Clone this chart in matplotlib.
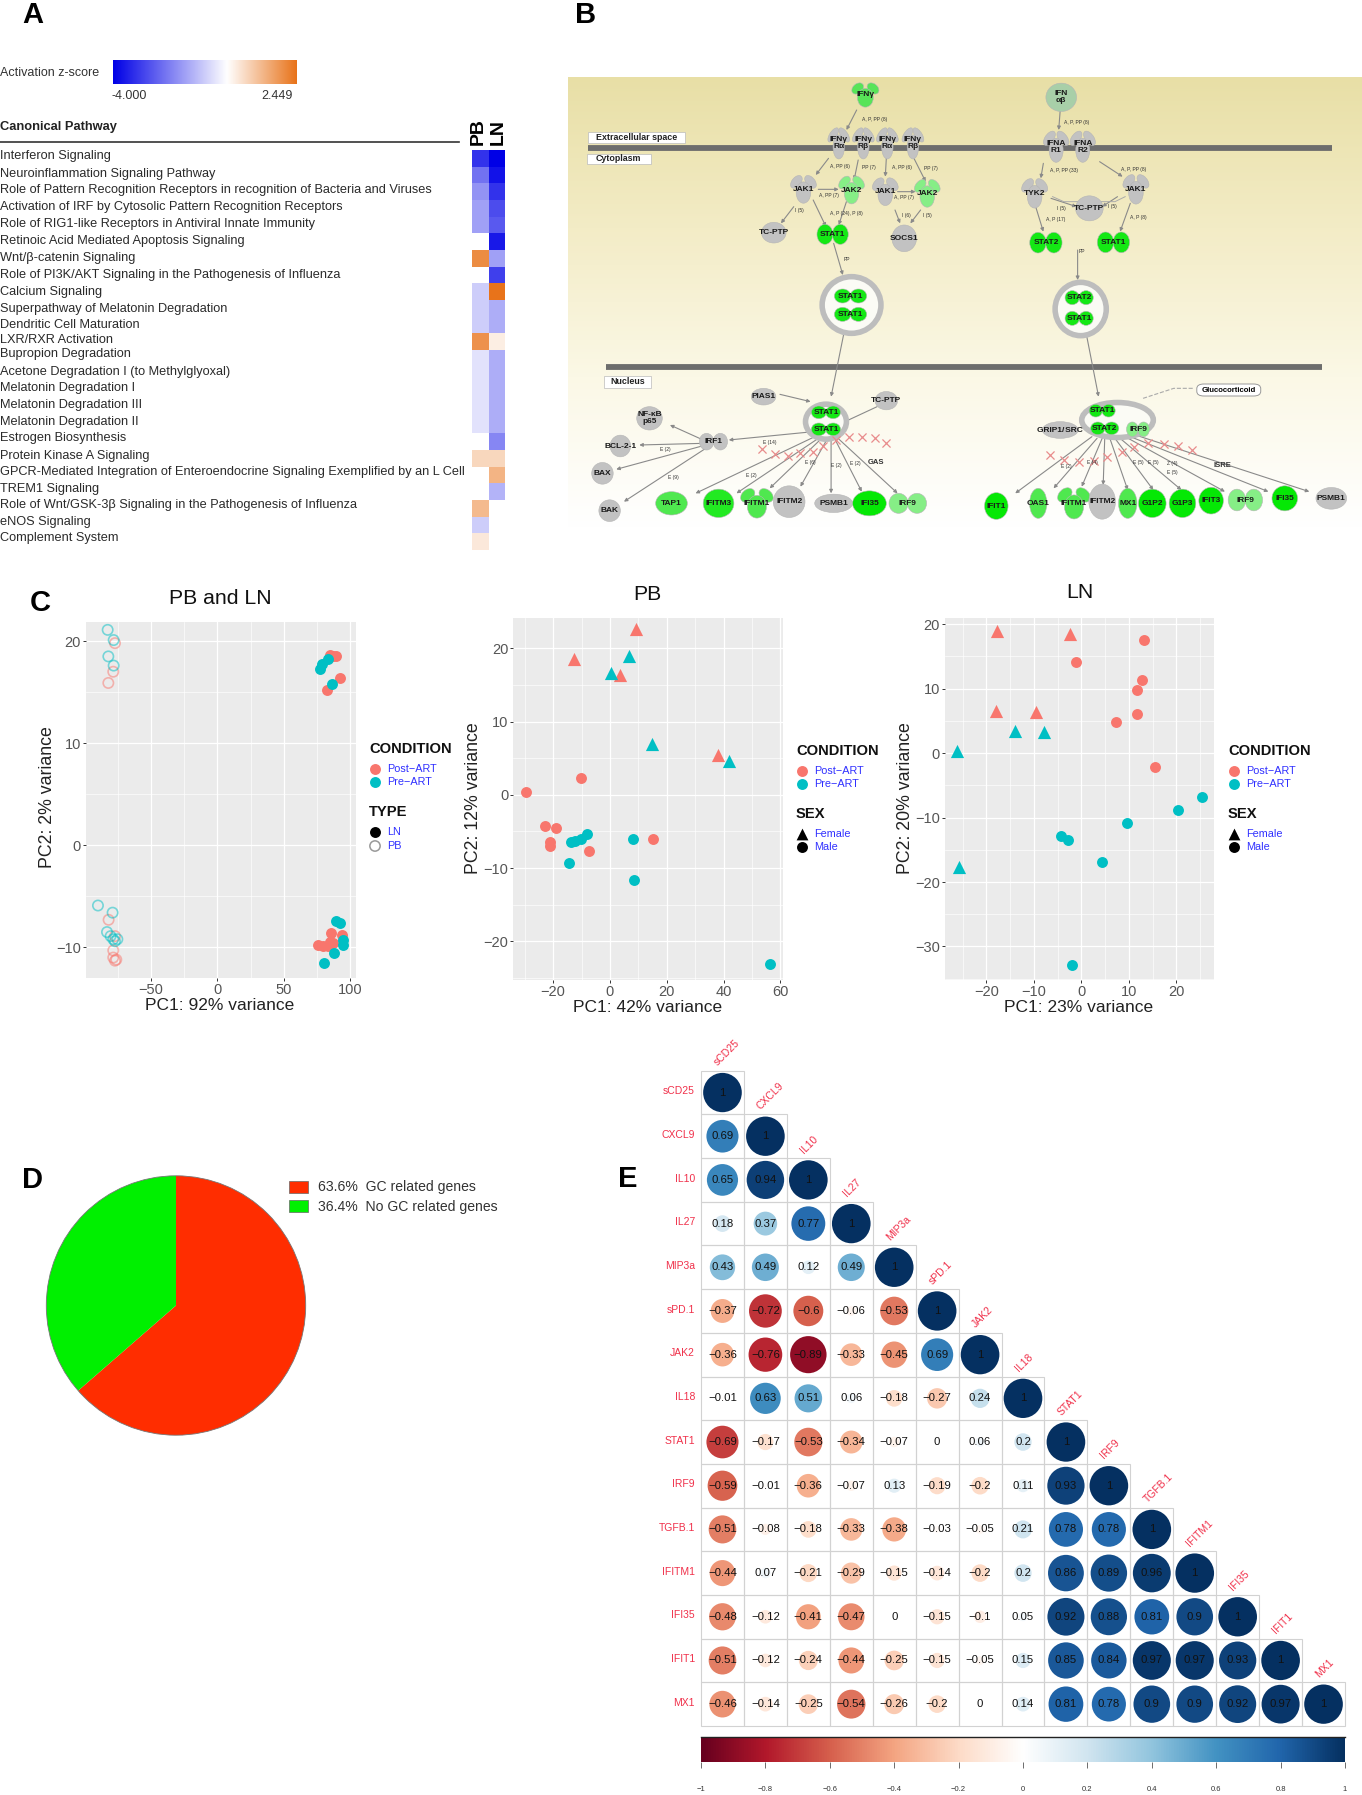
import numpy as np
import matplotlib
matplotlib.use("Agg")
import matplotlib.pyplot as plt
from matplotlib.colors import LinearSegmentedColormap
from matplotlib.patches import Ellipse, Rectangle, FancyBboxPatch

plt.rcParams['font.family'] = ['Liberation Sans', 'DejaVu Sans']
W, H = 1362, 1795
fig = plt.figure(figsize=(W / 100, H / 100), dpi=100, facecolor='white')

def pxax(l, t, r, b, **kw):
    return fig.add_axes([l / W, 1 - b / H, (r - l) / W, (b - t) / H], **kw)

ov = pxax(0, 0, W, H)
ov.set_xlim(0, W); ov.set_ylim(H, 0); ov.axis('off'); ov.set_zorder(10); ov.patch.set_alpha(0)

# ------------------------------------------------------------ Panel A data
pathways = ["Interferon Signaling", "Neuroinflammation Signaling Pathway",
            "Role of Pattern Recognition Receptors in recognition of Bacteria and Viruses",
            "Activation of IRF by Cytosolic Pattern Recognition Receptors",
            "Role of RIG1-like Receptors in Antiviral Innate Immunity",
            "Retinoic Acid Mediated Apoptosis Signaling", "Wnt/β-catenin Signaling",
            "Role of PI3K/AKT Signaling in the Pathogenesis of Influenza", "Calcium Signaling",
            "Superpathway of Melatonin Degradation", "Dendritic Cell Maturation", "LXR/RXR Activation",
            "Bupropion Degradation", "Acetone Degradation I (to Methylglyoxal)", "Melatonin Degradation I",
            "Melatonin Degradation III", "Melatonin Degradation II", "Estrogen Biosynthesis",
            "Protein Kinase A Signaling",
            "GPCR-Mediated Integration of Enteroendocrine Signaling Exemplified by an L Cell",
            "TREM1 Signaling", "Role of Wnt/GSK-3β Signaling in the Pathogenesis of Influenza",
            "eNOS Signaling", "Complement System"]
pathway_label_y = [156.5, 173.5, 190.5, 207, 224, 241, 258, 275, 292, 309, 325.5, 340, 354.5, 371.5,
                   388.5, 405, 421.5, 438.5, 455.5, 472.5, 489, 505, 522.5, 538.5]
nan = float('nan')
z_pb = [-3.2, -2.2, -1.7, -1.5, -1.5, nan, 2.0, nan, -0.8, -0.8, -0.8, 1.9, -0.45, -0.45, -0.45, -0.45,
        -0.45, nan, 0.7, nan, nan, 1.2, -0.8, 0.4]
z_ln = [-4.0, -3.7, -3.2, -2.8, -2.6, -3.6, -1.5, -3.0, 2.449, -1.3, -1.3, 0.3, -1.3, -1.3, -1.3, -1.3,
        -1.3, -1.9, 0.7, 1.3, -1.2, nan, nan, nan]

ipa = LinearSegmentedColormap.from_list('ipa', [(0, '#0000e6'), (4 / 6.449, '#ffffff'), (1, '#e8731a')])

ax = pxax(472.5, 150, 505, 550)
ax.pcolormesh(np.arange(3), np.arange(25), np.ma.masked_invalid(np.array([z_pb, z_ln]).T),
              cmap=ipa, vmin=-4, vmax=2.449)
ax.set_ylim(24, 0); ax.axis('off')

ax = pxax(113, 60, 297, 84.5)
ax.imshow(np.linspace(-4, 2.449, 256)[None, :], cmap=ipa, aspect='auto', vmin=-4, vmax=2.449)
ax.axis('off')

for name, y in zip(pathways, pathway_label_y):
    ov.text(0, y, name, fontsize=9.2, va='center', ha='left', color='#2a2a2a')
ov.text(0, 72.5, "Activation z-score", fontsize=9, va='center', color='#333333')
ov.text(129, 96, "-4.000", fontsize=9, va='center', ha='center', color='#333333')
ov.text(276.5, 96, "2.449", fontsize=9, va='center', ha='center', color='#333333')
ov.text(0, 127, "Canonical Pathway", fontsize=9.3, va='center', fontweight='bold', color='#222222')
ov.plot([0, 459], [141.5, 141.5], color='#333333', lw=1.2)
ov.text(478.6, 145, "PB", fontsize=14, rotation=90, ha='center', va='bottom', fontweight='bold')
ov.text(498, 145, "LN", fontsize=14, rotation=90, ha='center', va='bottom', fontweight='bold')

# ------------------------------------------------------------ Panel letters
panel_letters = [("A", 22, 15), ("B", 575, 15), ("C", 30, 603), ("D", 22, 1180), ("E", 618, 1179)]
for s, x, y in panel_letters:
    ov.text(x, y, s, fontsize=21, fontweight='bold', va='center', ha='left', color='black')

# ------------------------------------------------------------ Panel B pathway diagram
axb = pxax(560, 60, 1362, 540)
axb.set_xlim(0, 1568); axb.set_ylim(1440, 0); axb.axis('off')
bg = LinearSegmentedColormap.from_list('bg', ['#e8dfa6', '#f3ecc6', '#fbf8e6', '#ffffff'])
axb.imshow(np.linspace(0, 1, 256)[:, None], cmap=bg, aspect='auto', extent=(15, 1568, 1405, 55), zorder=0)
axb.set_xlim(0, 1568); axb.set_ylim(1440, 0)

GR, GN, LG = '#c2c2c2', '#14e814', '#86ee86'
membranes = [(55, 1510, 264), (90, 1490, 921)]
for x0, x1, y in membranes:
    axb.plot([x0, x1], [y, y], color='#6d6d6d', lw=4.2, solid_capstyle='butt', zorder=1)

edges = [(580, 150, 560, 210), (978, 150, 975, 210), (525, 295, 500, 345), (583, 300, 575, 360),
         (638, 295, 636, 350), (692, 295, 715, 365), (945, 310, 940, 355), (1055, 305, 1100, 350),
         (495, 420, 520, 500), (560, 425, 545, 495), (930, 440, 945, 515), (1115, 430, 1095, 515),
         (457, 440, 432, 490), (655, 450, 665, 490), (705, 450, 685, 490), (505, 388, 545, 388),
         (660, 395, 695, 395), (960, 415, 1010, 440), (1090, 410, 1060, 440),
         (535, 550, 553, 645), (1012, 570, 1012, 660), (555, 820, 530, 1010), (1030, 830, 1053, 1010),
         (430, 1003, 490, 1025), (620, 1040, 550, 1090), (495, 1115, 330, 1140), (280, 1140, 215, 1095),
         (280, 1150, 155, 1155), (285, 1155, 110, 1228), (285, 1165, 125, 1325), (505, 1125, 265, 1300),
         (510, 1130, 345, 1300), (515, 1130, 410, 1285), (525, 1130, 470, 1280), (530, 1130, 530, 1300),
         (535, 1130, 590, 1295), (540, 1130, 660, 1300), (1040, 1130, 890, 1300), (1050, 1135, 965, 1285),
         (1060, 1135, 1020, 1280), (1065, 1135, 1062, 1275), (1075, 1135, 1110, 1290), (1085, 1135, 1160, 1290),
         (1095, 1135, 1215, 1290), (1105, 1130, 1300, 1295), (1115, 1130, 1385, 1295), (1125, 1125, 1465, 1295)]
for x0, y0, x1, y1 in edges:
    axb.annotate('', xy=(x1, y1), xytext=(x0, y0), zorder=2,
                 arrowprops=dict(arrowstyle='-|>', color='#8a8a8a', lw=0.8, mutation_scale=5, shrinkA=0, shrinkB=0))
axb.plot([963, 985, 1085, 1105], [410, 425, 425, 410], color='#aaaaaa', lw=0.7, zorder=2)
axb.plot([1140, 1200, 1240], [1015, 985, 985], color='#aaaaaa', lw=0.8, ls='--', zorder=2)

rings = [(570, 735, 115, 170), (1018, 747, 100, 160), (520, 1085, 80, 105), (1090, 1080, 140, 105)]
for x, y, w, h in rings:
    axb.add_patch(Ellipse((x, y), w, h, fc='#fbfbf5', ec='#bdbdbd', lw=4, zorder=3))

nodes = [("IFNγ", 597, 105, 50, 70, '#58e458'), ("IFN\nαβ", 980, 112, 60, 85, '#a8cfa8'),
         ("IFNγ\nRα", 545, 250, 36, 90, GR), ("IFNγ\nRβ", 593, 250, 36, 90, GR),
         ("IFNγ\nRα", 640, 250, 36, 90, GR), ("IFNγ\nRβ", 690, 250, 36, 90, GR),
         ("IFNA\nR1", 970, 260, 44, 90, GR), ("IFNA\nR2", 1022, 260, 44, 90, GR),
         ("JAK1", 476, 388, 46, 80, GR), ("JAK2", 570, 390, 46, 80, LG), ("JAK1", 636, 395, 46, 80, GR),
         ("JAK2", 718, 400, 46, 80, LG), ("TYK2", 928, 400, 46, 85, GR), ("JAK1", 1126, 388, 46, 85, GR),
         ("TC-PTP", 1035, 445, 54, 75, GR), ("TC-PTP", 418, 518, 48, 62, GR), ("SOCS1", 673, 535, 48, 80, GR),
         ("STAT1", 533, 523, 60, 60, GN), ("STAT2", 950, 548, 62, 62, GN), ("STAT1", 1082, 547, 62, 62, GN),
         ("STAT1", 568, 708, 62, 42, GN), ("STAT1", 568, 763, 62, 42, GN),
         ("STAT2", 1015, 713, 54, 42, GN), ("STAT1", 1015, 775, 54, 42, GN),
         ("PIAS1", 398, 1010, 48, 50, GR), ("TC-PTP", 638, 1022, 44, 55, GR), ("NF-κB\np65", 175, 1075, 50, 70, GR),
         ("IRF1", 300, 1145, 54, 50, GR), ("BCL-2-1", 118, 1158, 40, 65, GR), ("BAX", 83, 1240, 42, 65, GR),
         ("BAK", 97, 1352, 42, 65, GR), ("STAT1", 520, 1057, 56, 38, GN), ("STAT1", 520, 1108, 56, 38, GN),
         ("STAT1", 1060, 1052, 50, 38, GN), ("STAT2", 1065, 1105, 54, 38, GN), ("IRF9", 1130, 1108, 44, 44, LG),
         ("GRIP1/\u200aSRC", 978, 1110, 70, 50, GR),
         ("TAP1", 218, 1330, 62, 70, '#4fe84f'), ("IFITM3", 310, 1330, 60, 85, '#22ea22'),
         ("IFITM1", 385, 1330, 60, 85, '#4fe84f'), ("IFITM2", 448, 1325, 62, 95, GR),
         ("PSMB1", 535, 1330, 74, 55, GR), ("IFI35", 605, 1330, 66, 75, '#05e805'), ("IRF9", 680, 1330, 72, 60, LG),
         ("IFIT1", 853, 1338, 46, 80, '#05e805'), ("OAS1", 935, 1330, 34, 90, '#4fe84f'),
         ("IFITM1", 1005, 1330, 60, 90, '#4fe84f'), ("IFITM2", 1060, 1325, 52, 105, GR),
         ("MX1", 1110, 1330, 36, 90, '#4fe84f'), ("G1P2", 1158, 1330, 54, 85, '#05e805'),
         ("G1P3", 1217, 1330, 52, 85, '#05e805'), ("IFIT3", 1273, 1322, 48, 80, '#05e805'),
         ("IRF9", 1340, 1320, 66, 65, LG), ("IFI35", 1417, 1315, 50, 75, '#05e805'),
         ("PSMB1", 1508, 1315, 60, 65, GR)]
y_shaped = {"IFNγ", "IFNγ\nRα", "IFNγ\nRβ", "IFNA\nR1", "IFNA\nR2", "JAK1", "JAK2", "TYK2", "IFITM1"}
dimer_shaped = {"STAT1", "STAT2", "IRF9", "IRF1"}

def ell(x, y, w, h, c, ang=0):
    axb.add_patch(Ellipse((x, y), w, h, angle=ang, fc=c, ec='#b5b5b5', lw=0.4, zorder=4))

for s, x, y, w, h, c in nodes:
    if s in y_shaped:
        ell(x - w * 0.3, y - h * 0.28, w * 0.42, h * 0.5, c, 20)
        ell(x + w * 0.3, y - h * 0.28, w * 0.42, h * 0.5, c, -20)
        ell(x, y + h * 0.12, w * 0.62, h * 0.8, c)
    elif s in dimer_shaped:
        ell(x - w * 0.25, y, w * 0.52, h, c)
        ell(x + w * 0.25, y, w * 0.52, h, c)
    else:
        ell(x, y, w, h, c)
    axb.text(x, y, s, fontsize=6, ha='center', va='center', fontweight='bold', color='#1a1a1a',
             zorder=5, linespacing=1.0)

dna_x = [395, 420, 445, 470, 495, 515, 540, 565, 590, 615, 638, 958, 985, 1015, 1045, 1070, 1098, 1122, 1150,
         1180, 1208, 1235]
dna_y = [1168, 1182, 1187, 1180, 1175, 1158, 1140, 1130, 1130, 1135, 1148, 1185, 1200, 1205, 1203, 1190, 1175,
         1162, 1150, 1152, 1158, 1170]
axb.scatter(dna_x, dna_y, marker='x', s=34, color='#e88c8c', lw=0.9, zorder=5)

boxes = [("Extracellular space", 150, 232, 190, 32), ("Cytoplasm", 115, 296, 125, 30), ("Nucleus", 132, 965, 90, 36)]
for s, x, y, w, h in boxes:
    axb.add_patch(Rectangle((x - w / 2, y - h / 2), w, h, fc='white', ec='#bbbbbb', lw=0.5, zorder=5))
    axb.text(x, y, s, fontsize=6.4, ha='center', va='center', fontweight='bold', color='#222222', zorder=6)
axb.add_patch(FancyBboxPatch((1245, 972), 125, 36, boxstyle='round,pad=0,rounding_size=14', fc='white',
                             ec='#999999', lw=0.7, zorder=5, mutation_aspect=1))
axb.text(1307, 990, "Glucocorticoid", fontsize=5.6, ha='center', va='center', fontweight='bold', zorder=6)
small_labels = [("A, P, PP (8)", 615, 178), ("A, P, PP (8)", 1010, 187), ("A, PP (6)", 548, 320), ("PP (7)", 603, 322),
                ("A, PP (6)", 668, 322), ("PP (7)", 725, 325), ("A, P, PP (33)", 985, 332), ("A, P, PP (8)", 1122, 330),
                ("A, PP (7)", 525, 405), ("A, PP (7)", 672, 413), ("A, P (24), P (8)", 560, 460), ("I (5)", 468, 452),
                ("I (6)", 678, 466), ("I (5)", 718, 466), ("A, P (17)", 970, 477), ("A, P (8)", 1130, 472),
                ("I (5)", 980, 445), ("I (5)", 1080, 440), ("PP", 560, 598), ("PP", 1020, 575),
                ("E (9)", 222, 1253), ("E (2)", 205, 1170),
                ("E (14)", 410, 1147), ("E (2)", 375, 1245), ("E (6)", 490, 1207), ("E (2)", 540, 1218),
                ("E (2)", 578, 1212), ("E (2)", 990, 1220), ("E (4)", 1040, 1207), ("E (5)", 1130, 1207),
                ("E (5)", 1160, 1207), ("Z (4)", 1197, 1212), ("E (5)", 1197, 1237)]
for s, x, y in small_labels:
    axb.text(x, y, s, fontsize=3.6, ha='center', va='center', color='#333333', zorder=6)
for s, x, y in [("GAS", 617, 1207), ("ISRE", 1295, 1217)]:
    axb.text(x, y, s, fontsize=5.5, ha='center', va='center', fontweight='bold', color='#333333', zorder=6)

# ------------------------------------------------------------ Panel C data
POST, PRE = '#F8766D', '#00BFC4'

all_pb_pre_x = [-82.5, -78, -82, -78, -89.8, -78.8, -83, -80.3, -78.3, -75.2, -77]
all_pb_pre_y = [21.1, 20.1, 18.5, 17.6, -5.9, -6.6, -8.5, -8.9, -9.2, -9.2, -9.4]
all_pb_post_x = [-77, -78.3, -82, -81.8, -77, -78.3, -78.3, -77, -76]
all_pb_post_y = [19.8, 17, 15.9, -7.3, -8.9, -10.3, -11, -11.3, -11.2]
all_ln_post_x = [84.8, 87.3, 89.3, 92.5, 82.3, 85.3, 93.6, 76, 79.8, 83.5, 87.3, 85]
all_ln_post_y = [18.6, 18.5, 18.5, 16.4, 15.2, -8.6, -8.8, -9.8, -9.9, -9.9, -9.6, -9.5]
all_ln_pre_x = [77.3, 78.5, 83.5, 86.3, 89.3, 92.3, 94.8, 94.3, 87.8, 80]
all_ln_pre_y = [17.3, 17.8, 18.2, 15.8, -7.4, -7.6, -9.3, -9.8, -10.6, -11.5]

pb_tri_post_x = [-12.7, 9.1, 3.5, 38]
pb_tri_post_y = [18.5, 22.6, 16.4, 5.5]
pb_tri_pre_x = [6.8, 0.5, 14.9, 41.8]
pb_tri_pre_y = [18.9, 16.6, 6.9, 4.6]
pb_cir_post_x = [-29.4, -10.2, -22.8, -18.9, -21.2, -21.2, -7.3, 15.2]
pb_cir_post_y = [0.4, 2.3, -4.3, -4.6, -6.5, -7, -7.7, -6.1]
pb_cir_pre_x = [-13.8, -12.3, -10.3, -8.1, -14.4, 8, 8.6, 56.4]
pb_cir_pre_y = [-6.5, -6.3, -6, -5.4, -9.3, -6, -11.6, -23.1]

ln_tri_post_x = [-17.8, -2.4, -18, -9.5]
ln_tri_post_y = [19, 18.5, 6.6, 6.4]
ln_tri_pre_x = [-13.9, -7.9, -26.1, -25.8]
ln_tri_pre_y = [3.4, 3.3, 0.4, -17.6]
ln_cir_post_x = [13.1, -1.1, 12.7, 11.7, 11.7, 7.2, 15.6]
ln_cir_post_y = [17.5, 14.1, 11.4, 9.8, 6.1, 4.8, -2.1]
ln_cir_pre_x = [25.5, 20.3, 9.6, -4.2, -2.7, 4.4, -2]
ln_cir_pre_y = [-6.8, -8.8, -10.8, -12.8, -13.5, -16.9, -32.8]

def ggaxes(box, xlim, ylim, xt, yt):
    a = pxax(*box)
    a.set_facecolor('#EBEBEB')
    a.set_xlim(*xlim); a.set_ylim(*ylim)
    a.set_xticks(xt); a.set_yticks(yt)
    dx, dy = xt[1] - xt[0], yt[1] - yt[0]
    a.set_xticks([v for v in np.arange(xt[0] - dx / 2, xlim[1], dx) if xlim[0] < v < xlim[1]], minor=True)
    a.set_yticks([v for v in np.arange(yt[0] - dy / 2, ylim[1], dy) if ylim[0] < v < ylim[1]], minor=True)
    a.grid(True, which='major', color='white', lw=0.9)
    a.grid(True, which='minor', color='white', lw=0.45)
    a.set_axisbelow(True)
    a.tick_params(which='minor', length=0)
    a.tick_params(which='major', length=2.2, width=0.7, color='#333333', labelsize=10.5,
                  labelcolor='#555555', pad=1.5)
    a.set_xticklabels([str(v).replace('-', '\u2212') for v in xt])
    a.set_yticklabels([str(v).replace('-', '\u2212') for v in yt])
    for s in a.spines.values():
        s.set_visible(False)
    return a

CIR_S, TRI_S = 62, 90
a1 = ggaxes((86, 621.7, 356, 978), (-98.8, 104.3), (-13, 21.9), [-50, 0, 50, 100], [-10, 0, 10, 20])
a1.scatter(all_pb_post_x, all_pb_post_y, s=55, facecolors='none', edgecolors=POST, alpha=0.5, lw=1.2)
a1.scatter(all_pb_pre_x, all_pb_pre_y, s=55, facecolors='none', edgecolors=PRE, alpha=0.5, lw=1.2)
a1.scatter(all_ln_post_x, all_ln_post_y, s=CIR_S, color=POST, lw=0)
a1.scatter(all_ln_pre_x, all_ln_pre_y, s=CIR_S, color=PRE, lw=0)

a2 = ggaxes((513.3, 617.7, 782.7, 980), (-34, 60.8), (-25.3, 24.2), [-20, 0, 20, 40, 60], [-20, -10, 0, 10, 20])
a3 = ggaxes((945, 617.7, 1214.3, 980), (-28.7, 28), (-35.2, 21), [-20, -10, 0, 10, 20], [-30, -20, -10, 0, 10, 20])
for a, groups in ((a2, [(pb_cir_post_x, pb_cir_post_y, POST, 'o'), (pb_cir_pre_x, pb_cir_pre_y, PRE, 'o'),
                        (pb_tri_post_x, pb_tri_post_y, POST, '^'), (pb_tri_pre_x, pb_tri_pre_y, PRE, '^')]),
                  (a3, [(ln_cir_post_x, ln_cir_post_y, POST, 'o'), (ln_cir_pre_x, ln_cir_pre_y, PRE, 'o'),
                        (ln_tri_post_x, ln_tri_post_y, POST, '^'), (ln_tri_pre_x, ln_tri_pre_y, PRE, '^')])):
    for x, y, c, m in groups:
        a.scatter(x, y, s=CIR_S if m == 'o' else TRI_S, color=c, marker=m, lw=0)

c_titles = [("PB and LN", 220, 598), ("PB", 647, 594), ("LN", 1080, 592)]
for s, x, y in c_titles:
    ov.text(x, y, s, fontsize=15.3, ha='center', va='center', color='#111111')
c_xlabels = [("PC1: 92% variance", 220, 1005), ("PC1: 42% variance", 648, 1007), ("PC1: 23% variance", 1079, 1007)]
for s, x, y in c_xlabels:
    ov.text(x, y, s, fontsize=12.5, ha='center', va='center', color='#222222')
c_ylabels = [("PC2: 2% variance", 48, 797), ("PC2: 12% variance", 474, 798), ("PC2: 20% variance", 906, 798)]
for s, x, y in c_ylabels:
    ov.text(x, y, s, fontsize=12.8, ha='center', va='center', rotation=90, color='#222222')

def legend(x0, dy, second, items):
    ov.text(x0, 749 + dy, "CONDITION", fontsize=10.6, fontweight='bold', va='center', color='#111111')
    ov.text(x0, 812 + dy, second, fontsize=10.6, fontweight='bold', va='center', color='#111111')
    for y, c, s in ((769, POST, "Post\u2212ART"), (782, PRE, "Pre\u2212ART")):
        ov.scatter([x0 + 6], [y + dy], s=CIR_S, color=c, lw=0)
        ov.text(x0 + 18.5, y + dy, s, fontsize=7.8, color='#3030ff', va='center')
    for y, m, s in items:
        if m == 'open':
            ov.scatter([x0 + 6], [y + dy], s=55, facecolors='none', edgecolors='#999999', lw=1.1)
        else:
            ov.scatter([x0 + 6], [y + dy], s=CIR_S if m == 'o' else TRI_S * 0.8, color='black', marker=m, lw=0)
        ov.text(x0 + 18.5, y + dy, s, fontsize=7.8, color='#3030ff', va='center')

legend(369, 0, "TYPE", [(832, 'o', "LN"), (846, 'open', "PB")])
legend(796, 2, "SEX", [(832, '^', "Female"), (845, 'o', "Male")])
legend(1228, 2, "SEX", [(832, '^', "Female"), (845, 'o', "Male")])

# ------------------------------------------------------------ Panel D
pie_values = [63.6, 36.4]
pie_colors = ['#FF2D00', '#00F000']
pie_labels = ["63.6%  GC related genes", "36.4%  No GC related genes"]
ax = pxax(176 - 131, 1305.5 - 131, 176 + 131, 1305.5 + 131)
ax.pie(pie_values, colors=pie_colors, startangle=90, counterclock=False, radius=1.0,
       wedgeprops=dict(lw=0))
ax.add_patch(plt.Circle((0, 0), 1.0, fc='none', ec='#777777', lw=0.6))
ax.set_xlim(-1.01, 1.01); ax.set_ylim(-1.01, 1.01)
for i, (c, s) in enumerate(zip(pie_colors, pie_labels)):
    y = 1181 + i * 19
    ov.add_patch(Rectangle((289, y), 19, 12, fc=c, ec='#666666', lw=0.5))
    ov.text(318.5, y + 6.5, s, fontsize=10.1, va='center', color='#333333')

# ------------------------------------------------------------ Panel E
genes = ["sCD25", "CXCL9", "IL10", "IL27", "MIP3a", "sPD.1", "JAK2", "IL18", "STAT1", "IRF9", "TGFB.1",
         "IFITM1", "IFI35", "IFIT1", "MX1"]
corr_rows = [[1],
             [0.69, 1],
             [0.65, 0.94, 1],
             [0.18, 0.37, 0.77, 1],
             [0.43, 0.49, 0.12, 0.49, 1],
             [-0.37, -0.72, -0.6, -0.06, -0.53, 1],
             [-0.36, -0.76, -0.89, -0.33, -0.45, 0.69, 1],
             [-0.01, 0.63, 0.51, 0.06, -0.18, -0.27, 0.24, 1],
             [-0.69, -0.17, -0.53, -0.34, -0.07, 0, 0.06, 0.2, 1],
             [-0.59, -0.01, -0.36, -0.07, 0.13, -0.19, -0.2, 0.11, 0.93, 1],
             [-0.51, -0.08, -0.18, -0.33, -0.38, -0.03, -0.05, 0.21, 0.78, 0.78, 1],
             [-0.44, 0.07, -0.21, -0.29, -0.15, -0.14, -0.2, 0.2, 0.86, 0.89, 0.96, 1],
             [-0.48, -0.12, -0.41, -0.47, 0, -0.15, -0.1, 0.05, 0.92, 0.88, 0.81, 0.9, 1],
             [-0.51, -0.12, -0.24, -0.44, -0.25, -0.15, -0.05, 0.15, 0.85, 0.84, 0.97, 0.97, 0.93, 1],
             [-0.46, -0.14, -0.25, -0.54, -0.26, -0.2, 0, 0.14, 0.81, 0.78, 0.9, 0.9, 0.92, 0.97, 1]]
rdbu = LinearSegmentedColormap.from_list('rdbu', ["#67001F", "#B2182B", "#D6604D", "#F4A582", "#FDDBC7", "#FFFFFF",
                                                  "#D1E5F0", "#92C5DE", "#4393C3", "#2166AC", "#053061"])
GL, GT, GR_, GB = 701, 1070.7, 1345, 1726
axe = pxax(GL, GT, GR_, GB)
axe.set_xlim(0, 15); axe.set_ylim(15, 0); axe.axis('off')
for i, row in enumerate(corr_rows):
    for j, r in enumerate(row):
        axe.add_patch(Rectangle((j, i), 1, 1, fc='none', ec='#d2d2d2', lw=0.8, zorder=1, clip_on=False))
        d = 0.9 * np.sqrt(abs(r))
        axe.add_patch(Ellipse((j + .5, i + .5), d, d, fc=rdbu((r + 1) / 2), ec='none', zorder=2))
        txt = f"{r:g}".replace('-', '\u2212')
        axe.text(j + .5, i + .5, txt, fontsize=8.2, ha='center', va='center', color='#111111', zorder=3)
cw, ch = (GR_ - GL) / 15, (GB - GT) / 15
for i, g in enumerate(genes):
    ov.text(GL - 6, GT + (i + .47) * ch, g, fontsize=7.5, color='#f0304a', ha='right', va='center')
    ov.text(GL + (i + .5) * cw - 3, GT + i * ch - 3, g, fontsize=7.5, color='#f0304a', rotation=45,
            ha='left', va='bottom', rotation_mode='anchor')

cb_ticks = [-1, -0.8, -0.6, -0.4, -0.2, 0, 0.2, 0.4, 0.6, 0.8, 1]
ax = pxax(GL, 1736.5, GR_, 1762)
ax.imshow(np.linspace(-1, 1, 512)[None, :], cmap=rdbu, vmin=-1, vmax=1, aspect='auto', extent=(-1, 1, 0, 1))
ax.set_yticks([]); ax.set_xticks(cb_ticks)
ax.set_xticklabels([f"{v:g}".replace('-', '\u2212') for v in cb_ticks], fontsize=5.5, color='#333333')
ax.tick_params(axis='x', length=4.5, width=0.6, color='#555555', pad=13)
for s in ('left', 'right', 'bottom'):
    ax.spines[s].set_visible(False)
ax.spines['top'].set_color('#222222'); ax.spines['top'].set_linewidth(1.0)

fig.savefig('out.png', dpi=100, facecolor='white')
